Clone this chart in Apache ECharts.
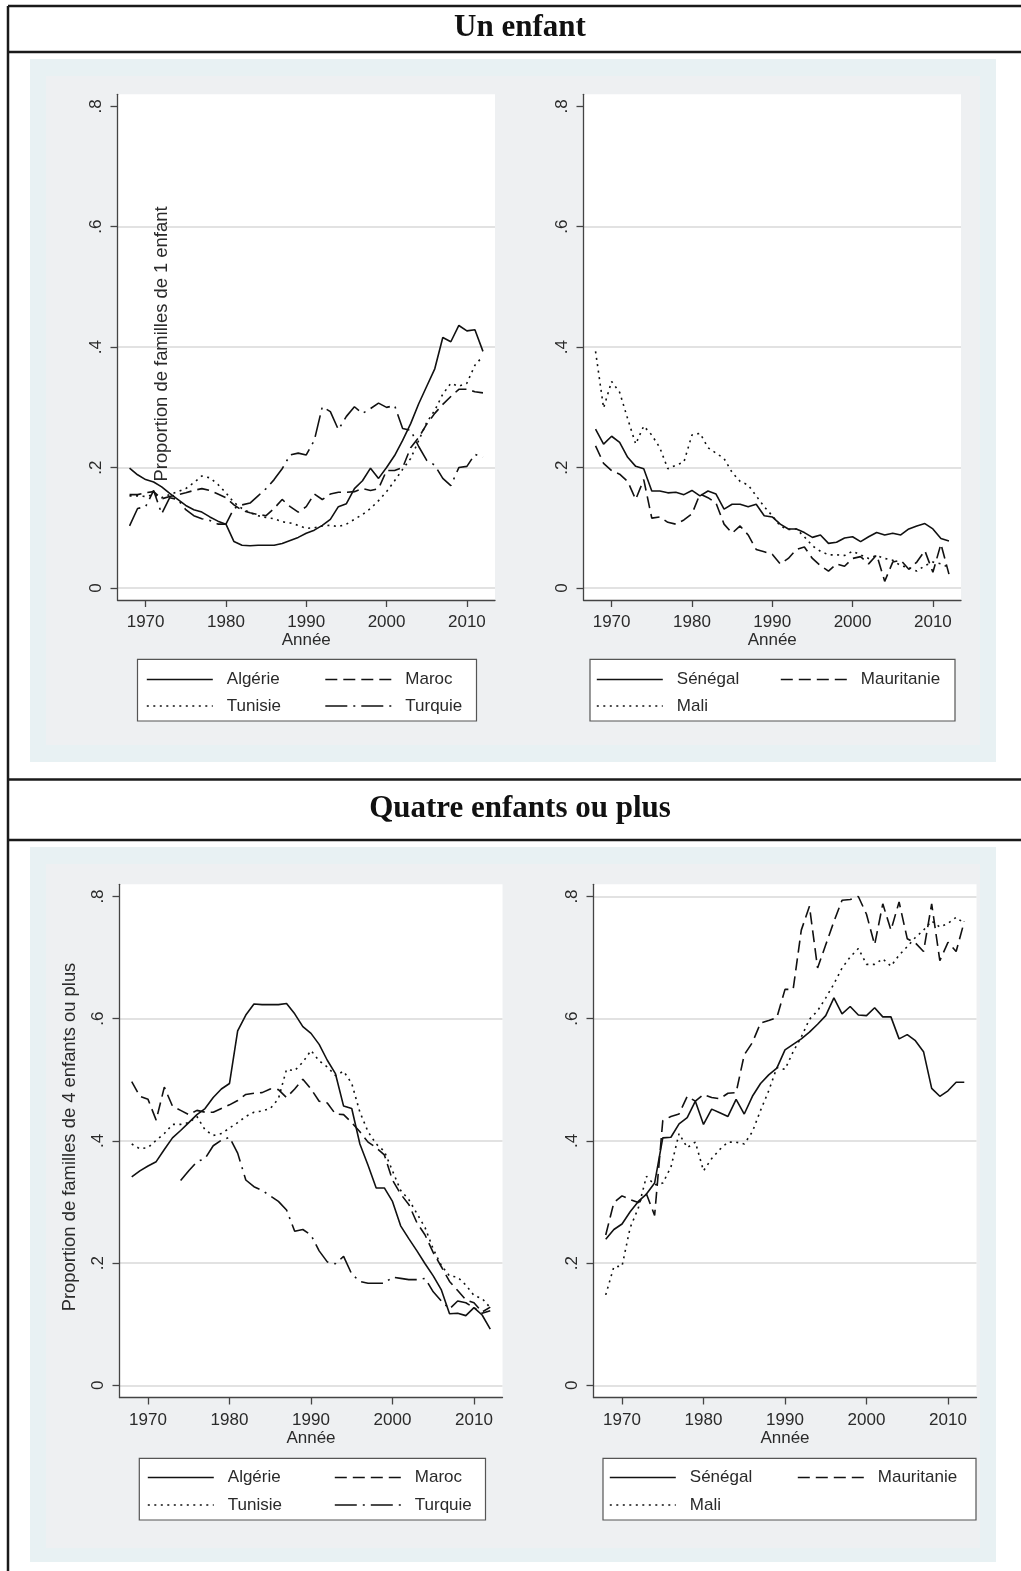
<!DOCTYPE html>
<html><head><meta charset="utf-8">
<script src="https://cdn.jsdelivr.net/npm/echarts@6/dist/echarts.min.js"></script>
<style>html,body{margin:0;padding:0;background:#fff}#c{width:1021px;height:1571px}</style>
</head><body><div id="c"></div>
<script>
// ---------- DATA ----------
const years = [1968,1969,1970,1971,1972,1973,1974,1975,1976,1977,1978,1979,1980,
  1981,1982,1983,1984,1985,1986,1987,1988,1989,1990,
  1991,1992,1993,1994,1995,1996,1997,1998,1999,2000,
  2001,2002,2003,2004,2005,2006,2007,2008,2009,2010,2011,2012];
const xTicks = [1970,1980,1990,2000,2010];
const yTicks = [0,0.2,0.4,0.6,0.8];
const yTickLabels = ['0','.2','.4','.6','.8'];

// Un enfant - Maghreb / Turquie
const algerie1 = [.199,.188,.180,.176,.168,.157,.147,.137,.130,.126,.118,.111,.106,
  .077,.071,.070,.071,.071,.071,.074,.079,.084,.091,
  .096,.104,.114,.135,.140,.165,.178,.199,.182,.200,
  .220,.245,.273,.306,.335,.364,.416,.409,.436,.427,.429,.393];
const maroc1 = [.155,.155,.158,.160,.148,.152,.155,.158,.162,.165,.162,.156,.150,
  .138,.129,.125,.122,.120,.132,.147,.135,.126,.135,
  .156,.147,.156,.159,.159,.160,.165,.162,.165,.195,
  .195,.200,.233,.250,.272,.290,.305,.318,.330,.330,.326,.324];
const tunisie1 = [.153,.153,.152,.155,.150,.155,.160,.165,.175,.186,.183,.172,.158,
  .142,.132,.125,.120,.117,.115,.110,.108,.104,.099,
  .100,.103,.104,.102,.106,.114,.122,.132,.145,.160,
  .178,.197,.215,.245,.275,.295,.322,.340,.335,.340,.370,.385];
const turquie1 = [.103,.132,.135,.162,.123,.150,.147,.130,.120,.115,.112,.106,.106,
  .132,.138,.141,.153,.165,.180,.198,.221,.224,.221,
  .245,.301,.293,.263,.285,.301,.290,.298,.307,.300,
  .303,.265,.262,.235,.212,.204,.182,.170,.200,.202,.222,.217];
// Un enfant - Afrique de l'Ouest
const senegal1 = [.264,.239,.252,.242,.217,.202,.198,.161,.161,.158,.159,.155,.162,
  .153,.161,.156,.131,.139,.139,.135,.139,.120,.118,
  .106,.098,.098,.092,.084,.088,.074,.076,.083,.085,
  .077,.085,.092,.088,.091,.088,.098,.103,.107,.098,.082,.078];
const mauritanie1 = [.236,.207,.195,.189,.177,.147,.180,.116,.118,.109,.106,.113,.123,
  .156,.150,.141,.106,.091,.103,.088,.064,.060,.056,
  .040,.049,.064,.068,.049,.037,.028,.040,.036,.049,
  .052,.040,.055,.011,.043,.046,.031,.043,.062,.026,.073,.023];
const mali1 = [.393,.299,.343,.325,.281,.239,.269,.254,.233,.198,.204,.209,.254,
  .257,.233,.224,.215,.192,.177,.171,.153,.135,.120,
  .103,.097,.098,.085,.070,.061,.055,.055,.054,.061,
  .055,.049,.054,.049,.046,.037,.034,.028,.037,.043,.040,.034];
// Quatre enfants ou plus - Maghreb / Turquie
const algerie4 = [.341,.351,.359,.366,.386,.405,.417,.430,.443,.453,.471,.485,.494,
  .580,.606,.624,.623,.623,.623,.625,.608,.587,.576,
  .558,.532,.510,.457,.453,.395,.360,.323,.323,.301,
  .261,.240,.220,.199,.179,.156,.117,.118,.114,.127,.115,.092];
const maroc4 = [.497,.473,.468,.434,.488,.457,.450,.443,.450,.447,.447,.453,.459,
  .466,.476,.478,.479,.485,.484,.471,.485,.501,.485,
  .465,.462,.444,.443,.430,.415,.398,.389,.377,.336,
  .313,.296,.266,.246,.217,.194,.170,.155,.140,.135,.120,.128];
const tunisie4 = [.395,.387,.389,.401,.412,.427,.427,.430,.440,.418,.409,.412,.421,
  .430,.440,.447,.449,.453,.469,.517,.515,.529,.548,
  .531,.521,.507,.514,.494,.447,.415,.395,.383,.351,
  .319,.304,.281,.258,.223,.196,.179,.177,.164,.147,.142,.127];
const turquie4 = [null,null,null,null,null,null,.335,.351,.366,.371,.392,.401,.406,
  .380,.336,.325,.319,.310,.301,.287,.252,.255,.246,
  .220,.202,.199,.211,.182,.170,.167,.167,.167,.177,
  .175,.173,.173,.175,.153,.138,.125,.138,.135,.127,.118,.122];
// Quatre enfants ou plus - Afrique de l'Ouest
const senegal4 = [.239,.255,.264,.284,.301,.313,.331,.405,.406,.428,.438,.465,.427,
  .452,.446,.440,.468,.444,.473,.494,.508,.519,.549,
  .558,.567,.578,.591,.605,.634,.608,.620,.606,.605,
  .618,.603,.603,.567,.574,.564,.546,.486,.473,.482,.496,.496];
const mauritanie4 = [.246,.299,.310,.304,.299,.313,.278,.433,.440,.444,.473,.465,.476,
  .471,.469,.478,.479,.541,.561,.593,.597,.602,.648,
  .648,.745,.784,.683,.721,.759,.794,.795,.800,.771,
  .721,.788,.745,.791,.731,.724,.710,.788,.695,.725,.710,.759];
const mali4 = [.148,.194,.195,.258,.290,.342,.328,.331,.357,.412,.389,.398,.351,
  .371,.386,.398,.398,.395,.415,.450,.482,.520,.517,
  .546,.570,.599,.613,.634,.657,.683,.701,.715,.689,
  .689,.698,.686,.704,.718,.733,.745,.760,.750,.756,.766,.756];

// ---------- STYLE / LAYOUT ----------
const FONT = '"Liberation Sans", Arial, Helvetica, sans-serif';
const SERIF = '"Liberation Serif", "DejaVu Serif", serif';
const INK = '#111';
const TXT = '#2a2a2a';
const AXC = '#444';
const DASH = {solid:'solid', dash:[12,6], dot:[2,4.5], dashdot:[22,6,2,6]};

const plots = [
  {grid:{left:117.5, top:94.3, width:377.5, height:505.7}, gridVals:[0,.2,.4,.6],
   series:[['Algérie',algerie1,'solid'],['Maroc',maroc1,'dash'],['Tunisie',tunisie1,'dot'],['Turquie',turquie1,'dashdot']]},
  {grid:{left:583.5, top:94.3, width:377.5, height:505.7}, gridVals:[0,.2,.4,.6],
   series:[['Sénégal',senegal1,'solid'],['Mauritanie',mauritanie1,'dash'],['Mali',mali1,'dot']]},
  {grid:{left:119.5, top:884.3, width:383, height:513.2}, gridVals:[0,.2,.4,.6],
   series:[['Algérie',algerie4,'solid'],['Maroc',maroc4,'dash'],['Tunisie',tunisie4,'dot'],['Turquie',turquie4,'dashdot']]},
  {grid:{left:593.5, top:884.3, width:383, height:513.2}, gridVals:[0,.2,.4,.6,.8],
   series:[['Sénégal',senegal4,'solid'],['Mauritanie',mauritanie4,'dash'],['Mali',mali4,'dot']]}
];

const legendItems = [
  ['Algérie',146,679.5],['Maroc',324.5,679.5],['Tunisie',146,706],['Turquie',324.5,706],
  ['Sénégal',596,679.5],['Mauritanie',780,679.5],['Mali',596,706],
  ['Algérie',147,1477.5],['Maroc',334,1477.5],['Tunisie',147,1505],['Turquie',334,1505],
  ['Sénégal',609,1477.5],['Mauritanie',797,1477.5],['Mali',609,1505]
];
const legendBoxes = [[137.5,659.3,339,61.7],[590,659.3,365,61.7],[139.3,1458.3,346.2,61.7],[603,1458.3,373,61.7]];

const fmtY = v => { const i = yTicks.findIndex(t => Math.abs(t - v) < 1e-6); return i >= 0 ? yTickLabels[i] : ''; };

const grid = [], xAxis = [], yAxis = [], series = [];
plots.forEach((p, i) => {
  grid.push(Object.assign({show:true, backgroundColor:'#ffffff', borderWidth:0, containLabel:false}, p.grid));
  xAxis.push({
    gridIndex:i, type:'value', min:1966.5, max:2013.5,
    axisLine:{show:true, onZero:false, lineStyle:{color:AXC, width:1.3}},
    axisTick:{show:true, customValues:xTicks, length:7, lineStyle:{color:AXC, width:1.3}},
    axisLabel:{customValues:xTicks, margin:14, fontSize:17, color:TXT, fontFamily:FONT, formatter: v => String(v)},
    splitLine:{show:false},
    name:'Année', nameLocation:'middle', nameGap:32,
    nameTextStyle:{fontSize:17, color:TXT, fontFamily:FONT}
  });
  yAxis.push({
    gridIndex:i, type:'value', min:-0.02, max:0.82, position:'left',
    axisLine:{show:true, onZero:false, lineStyle:{color:AXC, width:1.3}},
    axisTick:{show:true, customValues:yTicks, length:7, lineStyle:{color:AXC, width:1.3}},
    axisLabel:{customValues:yTicks, rotate:90, margin:13, fontSize:17, color:TXT, fontFamily:FONT, formatter:fmtY},
    splitLine:{show:false}
  });
  yAxis.push({
    gridIndex:i, type:'value', min:-0.02, max:0.82, position:'right',
    axisLine:{show:false}, axisTick:{show:false, customValues:p.gridVals},
    axisLabel:{show:false, customValues:p.gridVals},
    splitLine:{show:true, lineStyle:{color:'#e2e2e2', width:1.8}}
  });
  p.series.forEach(([name, vals, st]) => {
    series.push({
      name, type:'line', xAxisIndex:i, yAxisIndex:2*i, symbol:'none', showSymbol:false,
      connectNulls:false, animation:false,
      lineStyle:{color:INK, width:1.6, type:DASH[st]},
      itemStyle:{color:INK},
      data: years.map((y, k) => [y, vals[k]])
    });
  });
});

const legend = legendItems.map(([name, x, cy]) => ({
  show:true, data:[name], left:x, top:cy - 9, padding:0, itemWidth:66, itemHeight:18,
  selectedMode:false,
  itemStyle:{opacity:0, borderWidth:0},
  lineStyle:{color:INK, width:1.6},
  textStyle:{fontSize:17, color:TXT, fontFamily:FONT, lineHeight:18, padding:[0,0,0,9]}
}));

const g = [];
// panel backgrounds
g.push({type:'rect', z:-5, shape:{x:30, y:59, width:966, height:703}, style:{fill:'#e8f1f3'}});
g.push({type:'rect', z:-4, shape:{x:46, y:76, width:934, height:669}, style:{fill:'#eef0f2'}});
g.push({type:'rect', z:-5, shape:{x:30, y:847, width:966, height:715}, style:{fill:'#e8f1f3'}});
g.push({type:'rect', z:-4, shape:{x:46, y:864, width:934, height:684}, style:{fill:'#eef0f2'}});
// table borders
const bl = (x1,y1,x2,y2,w) => ({type:'line', z:5, shape:{x1,y1,x2,y2}, style:{stroke:'#1a1a1a', lineWidth:w}});
g.push(bl(8,6,1021,6,2.5));
g.push(bl(8,6,8,1571,2.5));
g.push(bl(8,52,1021,52,2.5));
g.push(bl(8,779.5,1021,779.5,2.5));
g.push(bl(8,840,1021,840,2.5));
// headers
g.push({type:'text', z:5, x:520, y:28, style:{text:'Un enfant', font:'bold 31px ' + SERIF, fill:'#111', align:'center', verticalAlign:'middle'}});
g.push({type:'text', z:5, x:520, y:809, style:{text:'Quatre enfants ou plus', font:'bold 31px ' + SERIF, fill:'#111', align:'center', verticalAlign:'middle'}});
// y axis titles
g.push({type:'text', z:5, x:161.7, y:344, rotation:Math.PI/2, style:{text:'Proportion de familles de 1 enfant', font:'18.4px ' + FONT, fill:TXT, align:'center', verticalAlign:'middle'}});
g.push({type:'text', z:5, x:70, y:1137, rotation:Math.PI/2, style:{text:'Proportion de familles de 4 enfants ou plus', font:'18.4px ' + FONT, fill:TXT, align:'center', verticalAlign:'middle'}});
// legend boxes
legendBoxes.forEach(([x,y,w,h]) => g.push({type:'rect', z:1, shape:{x,y,width:w,height:h}, style:{fill:'#fff', stroke:'#555', lineWidth:1.2}}));

const chart = echarts.init(document.getElementById('c'), null, {renderer:'canvas'});
chart.setOption({
  animation:false,
  backgroundColor:'#ffffff',
  textStyle:{fontFamily:FONT},
  grid, xAxis, yAxis, series, legend,
  graphic:{elements:g}
});
</script></body></html>
